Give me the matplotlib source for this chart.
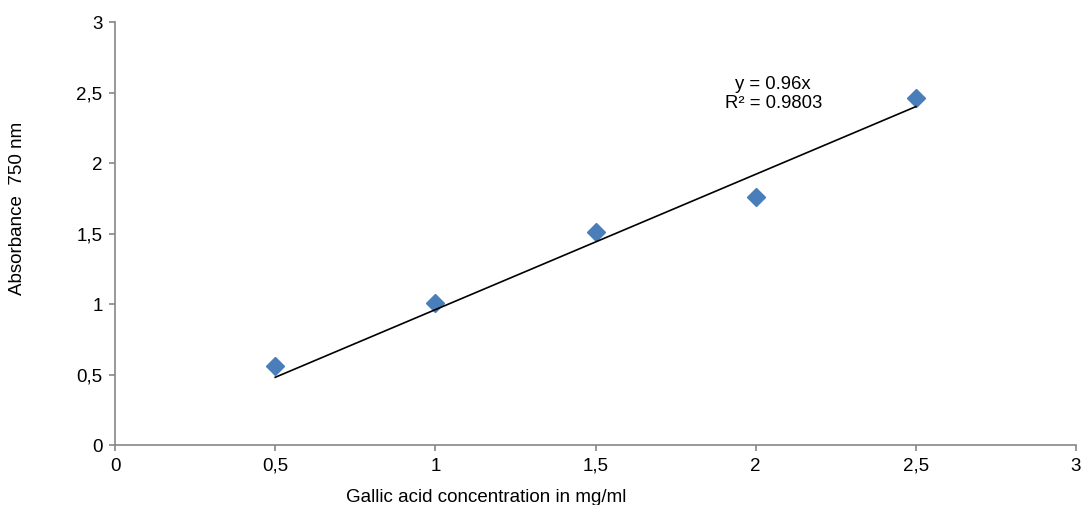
import matplotlib.pyplot as plt
import numpy as np

plt.rcParams['font.family'] = ['Liberation Sans', 'DejaVu Sans']

conc = [0.5, 1.0, 1.5, 2.0, 2.5]
absorb = [0.56, 1.01, 1.51, 1.76, 2.46]
slope = 0.96
r2 = 0.9803
xticks = [0, 0.5, 1, 1.5, 2, 2.5, 3]
xlabels = ['0', '0,5', '1', '1,5', '2', '2,5', '3']
yticks = [0, 0.5, 1, 1.5, 2, 2.5, 3]
ylabels = ['0', '0,5', '1', '1,5', '2', '2,5', '3']

fig = plt.figure(figsize=(10.81, 5.05), dpi=100)
ax = fig.add_axes([0.1064, 0.1188, 0.8890, 0.8376])

# trendline through origin, drawn over the data range
xfit = np.array([conc[0], conc[-1]])
ax.plot(xfit, slope * xfit, color='black', lw=1.2, zorder=4)
ax.plot(conc, absorb, linestyle='none', marker='D', ms=9.4,
        color='#4a7ebb', markeredgecolor='#4a7ebb', zorder=3)

ax.set_xlim(0, 3)
ax.set_ylim(0, 3)
ax.set_xticks(xticks)
ax.set_xticklabels(xlabels)
ax.set_yticks(yticks)
ax.set_yticklabels(ylabels)

for s in ['top', 'right']:
    ax.spines[s].set_visible(False)
for s in ['left', 'bottom']:
    ax.spines[s].set_color('#868686')
    ax.spines[s].set_linewidth(1.2)
ax.tick_params(colors='#868686', labelcolor='black', labelsize=13.5,
               length=4, width=1.2)
ax.tick_params(axis='x', pad=5)
ax.tick_params(axis='y', pad=5)

ax.text(2.055, 2.36, f'y = {slope}x\nR² = {r2}', ha='center', va='bottom',
        fontsize=13.3, linespacing=1.15)

fig.text(486 / 1081, 1 - 497 / 505, 'Gallic acid concentration in mg/ml',
         ha='center', va='center', fontsize=13.5)
fig.text(18 / 1081, 1 - 208 / 505, 'Absorbance  750 nm', rotation=90,
         ha='center', va='center', fontsize=13.5)

fig.savefig('out.png', dpi=100)
